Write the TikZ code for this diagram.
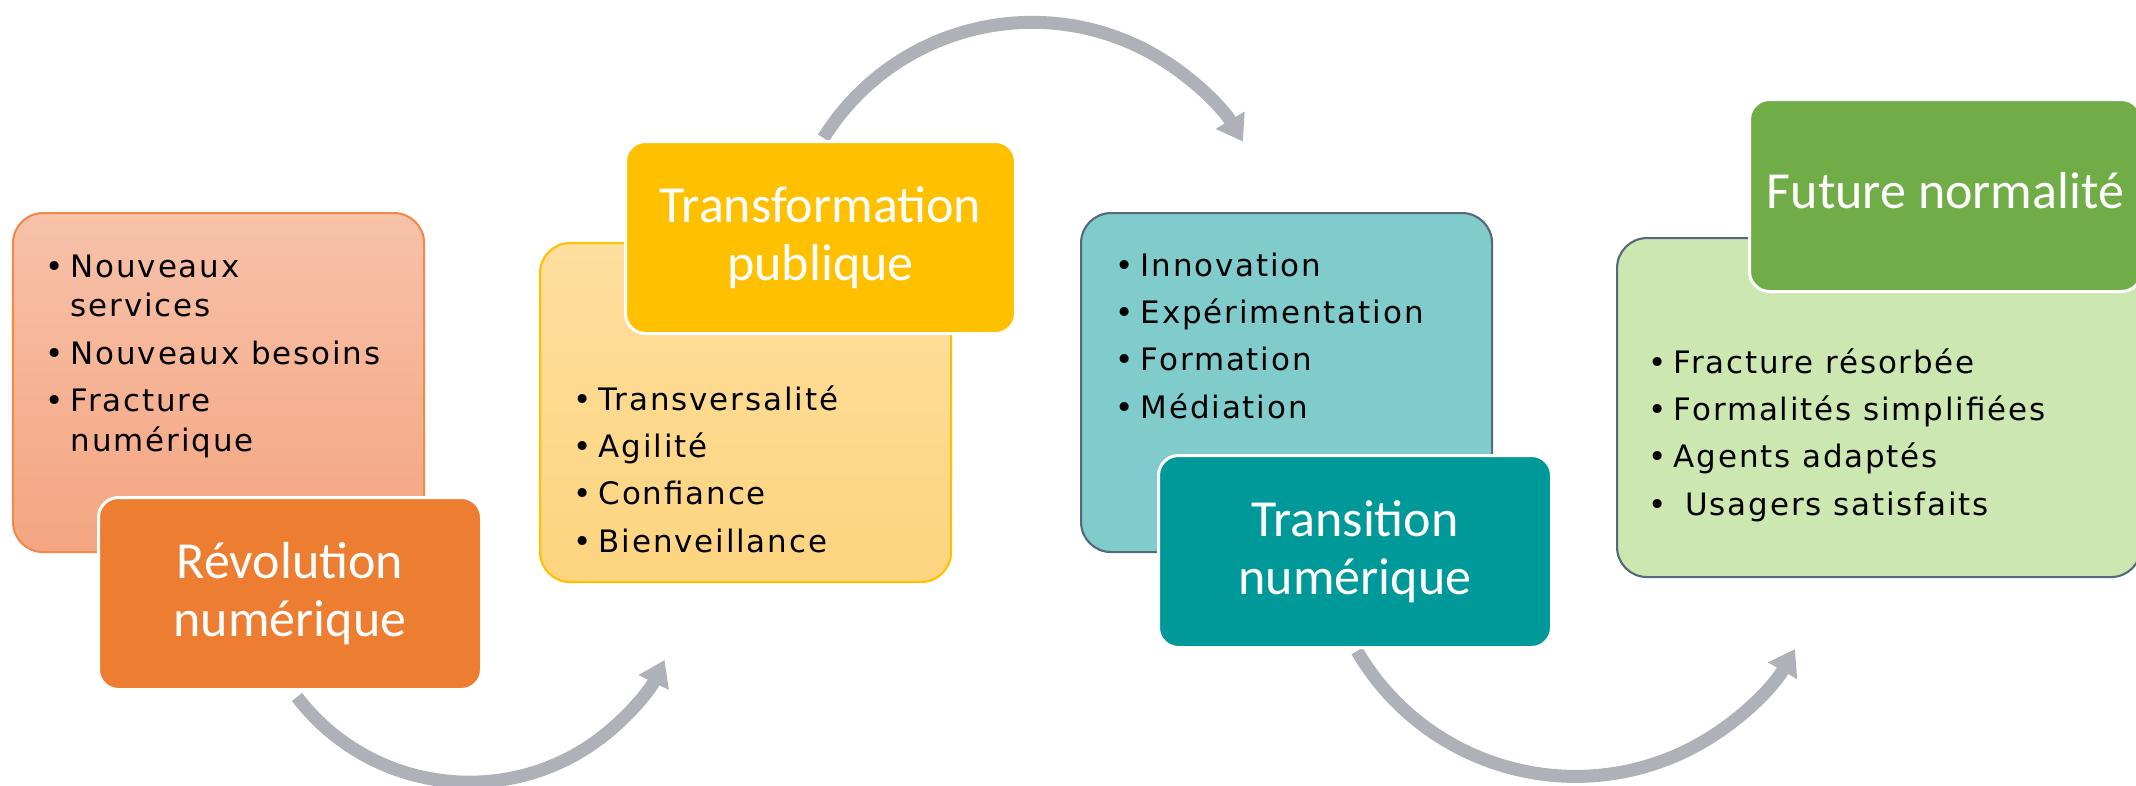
\documentclass[tikz,border=0pt]{standalone}
\usepackage{fontspec}
\setmainfont{DejaVu Sans}
\newfontfamily\titlefont{Carlito}
\newfontfamily\itemfont[LetterSpace=6]{DejaVu Sans}
\usepackage{tikz}
\usetikzlibrary{arrows.meta,shapes,backgrounds}
\definecolor{revtop}{HTML}{F7C2A9}
\definecolor{revbot}{HTML}{F4A581}
\definecolor{revedge}{HTML}{F08A4B}
\definecolor{revdark}{HTML}{ED7D31}
\definecolor{pubtop}{HTML}{FEDF9E}
\definecolor{pubbot}{HTML}{FDD47F}
\definecolor{pubdark}{HTML}{FFC000}
\definecolor{numlight}{HTML}{80CBCB}
\definecolor{numdark}{HTML}{009999}
\definecolor{normlight}{HTML}{CDE7B0}
\definecolor{normdark}{HTML}{70AD47}
\definecolor{slateedge}{HTML}{56687A}
\definecolor{arrowgray}{HTML}{AEB1B8}
\tikzstyle{panel}=[rectangle,rounded corners=0.3cm,anchor=north west,minimum height=3.39cm,inner sep=0pt,line width=0.6pt]
\tikzstyle{title box}=[rectangle,rounded corners=0.2cm,anchor=north west,minimum height=1.92cm,draw=white,line width=0.03cm,text=white,align=center,inner sep=0pt,font=\titlefont\fontsize{14.8pt}{16.5pt}\selectfont]
\tikzstyle{items}=[anchor=base west,inner sep=0pt,font=\itemfont\fontsize{8.8pt}{11.38pt}\selectfont]
\tikzstyle{cycle arrow}=[draw=arrowgray,line width=0.13cm,-{Triangle[width=0.32cm,length=0.25cm]}]
\newcommand{\puce}{\llap{\textbullet\hspace{0.07cm}}}

\begin{document}
\begin{tikzpicture}
    \useasboundingbox (0,0) rectangle (21.36,-7.85);
    \foreach \pos/\name/\pw/\ptop/\pbot/\pedge in {{(0.12,-2.12)/revp/4.11/revtop/revbot/revedge}, {(5.39,-2.42)/pubp/4.11/pubtop/pubbot/pubdark}, {(10.80,-2.12)/nump/4.11/numlight/numlight/slateedge}, {(16.16,-2.37)/normp/5.24/normlight/normlight/slateedge}}
        \node[panel,minimum width=\pw cm,top color=\ptop,bottom color=\pbot,draw=\pedge] (\name) at \pos {};
    \node[title box,minimum width=3.83cm,fill=revdark] (rev) at (0.97,-4.96) {Révolution\\numérique};
    \node[title box,minimum width=3.90cm,fill=pubdark] (pub) at (6.24,-1.40) {Transformation\\publique};
    \node[title box,minimum width=3.93cm,fill=numdark] (num) at (11.57,-4.54) {Transition\\numérique};
    \node[title box,minimum width=3.92cm,fill=normdark,text depth=0.11cm] (norm) at (17.48,-0.98) {Future normalité};
    \node[items] (revlist) at (0.70,-2.77) {\begin{tabular}[t]{@{}l@{}}\puce Nouveaux\\services\\[2.1pt]\puce Nouveaux besoins\\[2.1pt]\puce Fracture\\numérique\end{tabular}};
    \node[items] (publist) at (5.98,-4.10) {\begin{tabular}[t]{@{}l@{}}\puce Transversalité\\[2.1pt]\puce Agilité\\[2.1pt]\puce Confiance\\[2.1pt]\puce Bienveillance\end{tabular}};
    \node[items] (numlist) at (11.40,-2.76) {\begin{tabular}[t]{@{}l@{}}\puce Innovation\\[2.1pt]\puce Expérimentation\\[2.1pt]\puce Formation\\[2.1pt]\puce Médiation\end{tabular}};
    \node[items] (normlist) at (16.73,-3.73) {\begin{tabular}[t]{@{}l@{}}\puce Fracture résorbée\\[2.1pt]\puce Formalités simplifiées\\[2.1pt]\puce Agents adaptés\\[2.1pt]\puce\ Usagers satisfaits\end{tabular}};
    % arrows between the stages
    \begin{scope}[on background layer]
        \draw[cycle arrow] ([xshift=0.07cm,yshift=-0.06cm]rev.south) arc[start angle=-142.6,end angle=-25.9,radius=2.17];
        \draw[cycle arrow] ([xshift=0.03cm,yshift=0.02cm]pub.north) arc[start angle=148,end angle=31,radius=2.46];
        \draw[cycle arrow] ([xshift=0.02cm,yshift=-0.02cm]num.south) arc[start angle=-149.7,end angle=-29.8,radius=2.53];
    \end{scope}
\end{tikzpicture}
\end{document}
